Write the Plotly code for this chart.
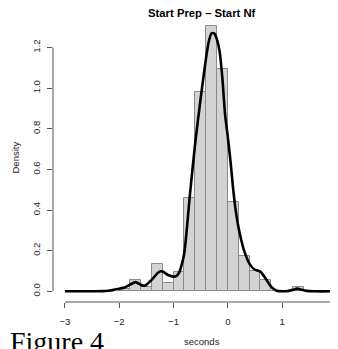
import plotly.graph_objects as go

# ---- data ----
bin_left = [-2.0, -1.8, -1.6, -1.4, -1.2, -1.0, -0.8, -0.6, -0.4, -0.2,
            0.0, 0.2, 0.4, 0.6, 0.8, 1.0, 1.2]
bin_width = 0.2
density = [0.01, 0.056, 0.02, 0.134, 0.039, 0.093, 0.46, 0.98, 1.307, 1.094,
           0.441, 0.172, 0.098, 0.058, 0.0, 0.0, 0.02]

kde_x = [-3.0, -2.5, -2.3, -2.2, -2.1, -2.0, -1.9, -1.8, -1.7, -1.6, -1.55,
         -1.5, -1.4, -1.3, -1.25, -1.2, -1.1, -1.0, -0.95, -0.9, -0.85, -0.8,
         -0.75, -0.7, -0.6, -0.5, -0.4, -0.35, -0.3, -0.25, -0.2, -0.15, -0.1,
         -0.05, 0.0, 0.05, 0.1, 0.15, 0.2, 0.25, 0.3, 0.4, 0.5, 0.55, 0.6,
         0.7, 0.8, 0.9, 1.0, 1.1, 1.2, 1.28, 1.35, 1.45, 1.6, 2.0]
kde_y = [0.0, 0.0, 0.001, 0.003, 0.007, 0.013, 0.019, 0.033, 0.045, 0.032, 0.027,
         0.032, 0.057, 0.088, 0.098, 0.097, 0.08, 0.072, 0.075, 0.09, 0.13, 0.19,
         0.32, 0.47, 0.73, 0.95, 1.15, 1.23, 1.27, 1.27, 1.24, 1.18, 1.05,
         0.87, 0.76, 0.64, 0.50, 0.39, 0.31, 0.25, 0.20, 0.135, 0.106, 0.102, 0.097,
         0.062, 0.022, 0.003, 0.0, 0.001, 0.007, 0.013, 0.008, 0.002, 0.0, 0.0]

x_ticks = [-3, -2, -1, 0, 1, 2]
y_ticks = [0.0, 0.2, 0.4, 0.6, 0.8, 1.0, 1.2]
y_ticktext = ["0.0", "0.2", "0.4", "0.6", "0.8", "1.0", "1.2"]

title_text = "Start Prep \u2013 Start Nf"
x_label = "seconds"
y_label = "Density"
figure_label = "Figure 4"

# ---- figure (page body has an 8px margin, so compensate) ----
OFF = 8
W, H = 338 - OFF, 349 - OFF
ML, MR, MT, MB = 53 - OFF, 0, 13 - OFF, 47
PW, PH = W - ML - MR, H - MT - MB

def px_x(p):
    return (p - OFF - ML) / PW

def px_y(p):
    return (H - MB - (p - OFF)) / PH

centers = [e + bin_width / 2 for e in bin_left]

fig = go.Figure()
fig.add_trace(go.Bar(
    x=centers, y=density, width=bin_width,
    marker=dict(color="#d3d3d3", line=dict(color="#8a8a8a", width=1)),
    showlegend=False, hoverinfo="skip",
))
fig.add_trace(go.Scatter(
    x=kde_x, y=kde_y, mode="lines",
    line=dict(color="black", width=2.6, shape="spline", smoothing=0.6),
    showlegend=False, hoverinfo="skip",
))

axis_col = "#555555"
text_col = "#222222"
sans = "Liberation Sans, Arial, sans-serif"

fig.update_layout(
    width=W, height=H,
    margin=dict(l=ML, r=MR, t=MT, b=MB, pad=0),
    paper_bgcolor="white", plot_bgcolor="white",
    font=dict(family=sans, size=9.5, color=text_col),
    bargap=0,
    xaxis=dict(range=[-3.22, 2.03], tickvals=x_ticks, ticks="outside",
               ticklen=5, tickcolor=axis_col, tickwidth=1, showgrid=False,
               zeroline=False, showline=False, ticklabelstandoff=6,
               tickfont=dict(family=sans, size=9.5, color=text_col)),
    yaxis=dict(range=[-0.0527, 1.37], tickvals=y_ticks, ticktext=y_ticktext,
               ticks="outside", ticklen=5, tickcolor=axis_col, tickwidth=1,
               showgrid=False, zeroline=False, showline=False, tickangle=-90,
               ticklabelstandoff=3,
               tickfont=dict(family=sans, size=9.5, color=text_col)),
)

# R-style axis lines spanning first to last tick
fig.add_shape(type="line", xref="x", yref="paper", x0=x_ticks[0], x1=x_ticks[-1],
              y0=0, y1=0, line=dict(color=axis_col, width=1))
fig.add_shape(type="line", xref="paper", yref="y", x0=0, x1=0,
              y0=y_ticks[0], y1=y_ticks[-1], line=dict(color=axis_col, width=1))

fig.add_annotation(text="<b>" + title_text + "</b>", xref="paper", yref="paper",
                   x=px_x(201.5), y=px_y(12.7), xanchor="center", yanchor="middle",
                   showarrow=False, font=dict(family=sans, size=11.3, color="black"))
fig.add_annotation(text=x_label, xref="paper", yref="paper",
                   x=px_x(201.8), y=px_y(341), xanchor="center", yanchor="middle",
                   showarrow=False, font=dict(family=sans, size=9.5, color=text_col))
fig.add_annotation(text=y_label, xref="paper", yref="paper",
                   x=px_x(15), y=px_y(157.5), xanchor="center", yanchor="middle",
                   textangle=-90, showarrow=False,
                   font=dict(family=sans, size=9.5, color=text_col))
fig.add_annotation(text=figure_label, xref="paper", yref="paper",
                   x=px_x(8), y=px_y(324), xanchor="left", yanchor="top",
                   showarrow=False,
                   font=dict(family="Liberation Serif, Times New Roman, serif",
                             size=28, color="black"))

fig.write_html("out.html")
